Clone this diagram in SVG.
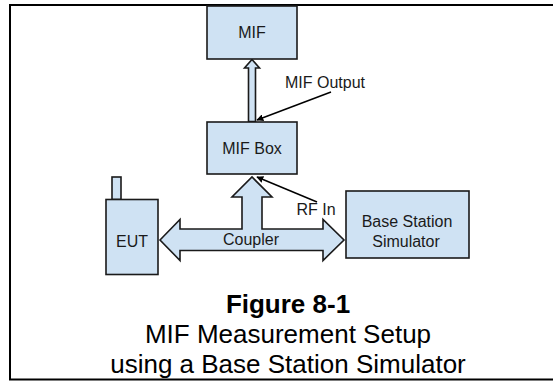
<svg xmlns="http://www.w3.org/2000/svg" width="553" height="381" viewBox="0 0 553 381">
<style>
.box{fill:#cfe2f3;stroke:#1a1a1a;stroke-width:1.6}
.lbl{font-family:"Liberation Sans",Arial,sans-serif;font-size:16px;fill:#1a1a1a;text-anchor:middle}
.cap{font-family:"Liberation Sans",Arial,sans-serif;font-size:26px;fill:#000;text-anchor:middle}
.ptr{stroke:#000;stroke-width:1.5;fill:none;marker-end:url(#ah)}
</style>
<defs>
<marker id="ah" viewBox="0 0 10 10" refX="9" refY="5" markerWidth="7" markerHeight="7" markerUnits="userSpaceOnUse" orient="auto">
<path d="M0,0 L10,5 L0,10 Z" fill="#000"/>
</marker>
</defs>
<rect width="553" height="381" fill="#fff"/>
<path d="M553,5 H10 V379.5 H553" fill="none" stroke="#000" stroke-width="2"/>
<g id="connectors">
<polygon class="box" points="252,59.5 259.5,68 255.5,68 255.5,121.5 248.5,121.5 248.5,68 244.5,68"/>
<polygon class="box" points="160,240 180,219.5 180,229 242,229 242,197 232,197 252,177 272,197 262,197 262,229 323,229 323,219.5 344,240 323,260.5 323,250.5 180,250.5 180,260.5"/>
<path class="ptr" d="M331,92 L257,120"/>
<path class="ptr" d="M317,202 L257,177"/>
<text class="lbl" x="325" y="88">MIF Output</text>
<text class="lbl" x="316" y="215">RF In</text>
<text class="lbl" x="251" y="245">Coupler</text>
</g>
<g id="mif">
<rect class="box" x="207" y="6" width="90" height="53"/>
<text class="lbl" x="252" y="38">MIF</text>
</g>
<g id="mifbox">
<rect class="box" x="207" y="122" width="90" height="52"/>
<text class="lbl" x="252" y="154">MIF Box</text>
</g>
<g id="eut">
<rect class="box" x="112" y="177" width="9" height="22.5"/>
<rect class="box" x="106" y="199.5" width="52" height="75"/>
<text class="lbl" x="132" y="247">EUT</text>
</g>
<g id="bss">
<rect class="box" x="346" y="191" width="123" height="67"/>
<text class="lbl" x="407" y="227">Base Station</text>
<text class="lbl" x="406" y="247">Simulator</text>
</g>
<g id="caption">
<text class="cap" x="288" y="313" font-weight="bold">Figure 8-1</text>
<text class="cap" x="288" y="343">MIF Measurement Setup</text>
<text class="cap" x="288" y="373">using a Base Station Simulator</text>
</g>
</svg>
